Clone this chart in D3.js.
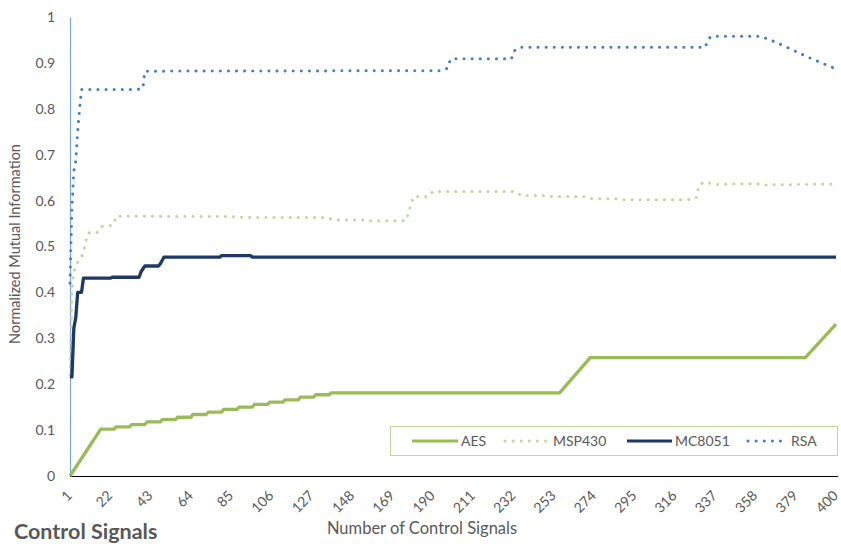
<!DOCTYPE html>
<html>
<head>
<meta charset="utf-8">
<script src="https://cdn.jsdelivr.net/npm/d3@7/dist/d3.min.js"></script>
<style>
  html, body { margin: 0; padding: 0; background: #ffffff; }
  svg { display: block; font-family: Lato, "Open Sans", sans-serif; }
</style>
</head>
<body>
<svg id="chart" width="841" height="544"></svg>
<script>
// Category axis labels (every 21st control signal) and value axis labels
const xTickLabels = [1, 22, 43, 64, 85, 106, 127, 148, 169, 190, 211, 232, 253, 274, 295, 316, 337, 358, 379, 400];
const yTickLabels = [0, 0.1, 0.2, 0.3, 0.4, 0.5, 0.6, 0.7, 0.8, 0.9, 1];

// Normalized mutual information vs. number of control signals: [count, value] breakpoints
const aesPoints = [
  [1, 0], [17, 0.102], [24, 0.102], [25, 0.107], [32, 0.107], [33, 0.112], [40, 0.112],
  [41, 0.118], [48, 0.118], [49, 0.123], [56, 0.123], [57, 0.128], [64, 0.128],
  [65, 0.134], [72, 0.134], [73, 0.139], [80, 0.139], [81, 0.145], [88, 0.145],
  [89, 0.150], [96, 0.150], [97, 0.156], [104, 0.156], [105, 0.161], [112, 0.161],
  [113, 0.166], [120, 0.166], [121, 0.172], [128, 0.172], [129, 0.177], [136, 0.177],
  [137, 0.181], [256, 0.181], [272, 0.258], [384, 0.258], [400, 0.331]
];
const msp430Points = [
  [1, 0.22], [2, 0.40], [3, 0.445], [5, 0.465], [7, 0.478], [8, 0.487], [9, 0.505],
  [10, 0.525], [11, 0.53], [15, 0.53], [17, 0.543], [23, 0.546], [24, 0.552], [25, 0.566],
  [88, 0.565], [92, 0.563], [135, 0.563], [138, 0.558], [155, 0.558], [158, 0.556],
  [176, 0.556], [178, 0.583], [180, 0.609], [188, 0.609], [190, 0.62], [233, 0.62],
  [236, 0.611], [248, 0.611], [252, 0.609], [269, 0.609], [273, 0.604], [286, 0.604],
  [289, 0.602], [323, 0.602], [327, 0.605], [328, 0.622], [329, 0.635], [332, 0.641],
  [336, 0.635], [358, 0.637], [362, 0.634], [400, 0.636]
];
const mc8051Points = [
  [1, 0.216], [2, 0.216], [3, 0.322], [4, 0.345], [5, 0.40], [7, 0.40], [8, 0.431],
  [22, 0.431], [23, 0.433], [37, 0.433], [38, 0.445], [40, 0.4575], [47, 0.4575],
  [48, 0.462], [50, 0.477], [79, 0.477], [80, 0.48], [95, 0.48], [96, 0.477], [400, 0.477]
];
const rsaPoints = [
  [1, 0.42], [2, 0.58], [3, 0.665], [4, 0.685], [5, 0.75], [6, 0.80], [7, 0.842],
  [36, 0.842], [39, 0.845], [40, 0.882], [195, 0.883], [198, 0.889], [199, 0.907],
  [200, 0.909], [231, 0.909], [232, 0.925], [235, 0.934], [332, 0.934], [333, 0.949],
  [335, 0.958], [360, 0.958], [364, 0.953], [368, 0.946], [375, 0.933], [382, 0.919],
  [389, 0.906], [400, 0.887]
];

const seriesNames = ["AES", "MSP430", "MC8051", "RSA"];
const seriesData = [aesPoints, msp430Points, mc8051Points, rsaPoints];
const seriesColors = ["#9bbb59", "#c3d69b", "#1f3864", "#4a7ec3"];
const seriesDotted = [false, true, false, true];

const svg = d3.select("#chart");
const plot = { left: 70, right: 836, top: 17, bottom: 476 };

const x = d3.scaleLinear().domain([1, 400]).range([plot.left, plot.right]);
const y = d3.scaleLinear().domain([0, 1]).range([plot.bottom, plot.top]);

const textColor = "#595959";

// Value axis
const yAxis = svg.append("g")
  .attr("transform", `translate(${plot.left},0)`)
  .call(d3.axisLeft(y).tickValues(yTickLabels).tickSize(0).tickPadding(15).tickFormat(d3.format("")));
yAxis.select(".domain").attr("stroke", "#7aa6da").attr("stroke-width", 1.2);
yAxis.selectAll("text")
  .attr("fill", textColor).attr("font-size", "14px").attr("font-family", "Lato, sans-serif");

// Category axis
const xAxis = svg.append("g")
  .attr("transform", `translate(0,${plot.bottom})`)
  .call(d3.axisBottom(x).tickValues(xTickLabels).tickSize(0).tickFormat(d3.format("")));
xAxis.select(".domain").attr("stroke", "#000").attr("stroke-width", 1.2)
  .attr("d", `M${plot.left},0.5H${plot.right + 2}`);
xAxis.selectAll(".tick text")
  .attr("fill", textColor).attr("font-size", "14px").attr("font-family", "Lato, sans-serif")
  .attr("text-anchor", "end")
  .attr("y", 0).attr("dy", "0.35em")
  .attr("transform", "translate(-1,17) rotate(-45)");

// Series lines
const line = d3.line().x(d => x(d[0])).y(d => y(d[1]));
seriesData.forEach((pts, i) => {
  const p = svg.append("path")
    .datum(pts)
    .attr("d", line)
    .attr("fill", "none")
    .attr("stroke", seriesColors[i])
    .attr("stroke-width", seriesDotted[i] ? 3 : 3.3)
    .attr("stroke-linejoin", "round");
  if (seriesDotted[i]) {
    p.attr("stroke-dasharray", "0.1 8").attr("stroke-linecap", "round");
  }
});

// Legend
const legend = svg.append("g");
legend.append("rect")
  .attr("x", 390.5).attr("y", 426.5).attr("width", 447).attr("height", 29)
  .attr("fill", "#ffffff").attr("stroke", "#c3d69b").attr("stroke-width", 1);
const legendSwatchX = [412, 505, 627, 748];
const legendSwatchW = [46, 45, 45, 40];
seriesNames.forEach((name, i) => {
  const cy = 441;
  const s = legend.append("line")
    .attr("x1", legendSwatchX[i]).attr("x2", legendSwatchX[i] + legendSwatchW[i])
    .attr("y1", cy).attr("y2", cy)
    .attr("stroke", seriesColors[i]).attr("stroke-width", 3);
  if (seriesDotted[i]) s.attr("stroke-dasharray", "0.1 8").attr("stroke-linecap", "round");
  legend.append("text")
    .attr("x", legendSwatchX[i] + legendSwatchW[i] + 3).attr("y", cy).attr("dy", "0.35em")
    .attr("fill", textColor).attr("font-size", "14px")
    .text(name);
});

// Axis titles
svg.append("text")
  .attr("transform", `translate(20,244) rotate(-90)`)
  .attr("text-anchor", "middle")
  .attr("fill", textColor).attr("font-size", "14.5px")
  .text("Normalized Mutual Information");

svg.append("text")
  .attr("x", 422).attr("y", 534)
  .attr("text-anchor", "middle")
  .attr("fill", textColor).attr("font-size", "16.5px")
  .text("Number of Control Signals");

svg.append("text")
  .attr("x", 14).attr("y", 539)
  .attr("fill", textColor).attr("font-size", "21.5px").attr("font-weight", "bold")
  .text("Control Signals");
</script>
</body>
</html>
